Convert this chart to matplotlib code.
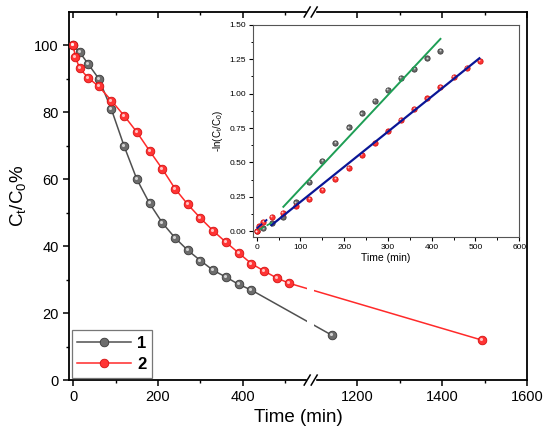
import numpy as np
import matplotlib
matplotlib.use("Agg")
import matplotlib.pyplot as plt
from matplotlib.transforms import ScaledTranslation

plt.rcParams['font.family'] = ['Liberation Sans', 'DejaVu Sans']
plt.rcParams['mathtext.default'] = 'regular'

# main plot: Ct/C0 (%) against time (min)
t1 = [0, 15, 35, 60, 90, 120, 150, 180, 210, 240, 270, 300, 330, 360, 390, 420, 1140]
c1 = [100, 98.0, 94.5, 90.1, 80.9, 69.9, 60.0, 52.8, 47.0, 42.5, 38.8, 35.7, 32.8,
      30.8, 28.6, 26.9, 13.4]
t2 = [0, 5, 15, 35, 60, 90, 120, 150, 180, 210, 240, 270, 300, 330, 360, 390, 420,
      450, 480, 510, 1495]
c2 = [100, 96.5, 93.2, 90.3, 87.8, 83.5, 79.0, 74.1, 68.5, 63.1, 57.2, 52.5, 48.4,
      44.6, 41.2, 38.0, 34.8, 32.6, 30.5, 28.9, 11.9]

# inset: -ln(Ct/C0) against time
it1 = [0, 15, 35, 60, 90, 120, 150, 180, 210, 240, 270, 300, 330, 360, 390, 420]
k1 = [0.0, 0.02, 0.056, 0.104, 0.209, 0.359, 0.512, 0.641, 0.755, 0.857, 0.949,
      1.027, 1.117, 1.18, 1.257, 1.311]
it2 = [0, 5, 15, 35, 60, 90, 120, 150, 180, 210, 240, 270, 300, 330, 360, 390, 420,
       450, 480, 510]
k2 = [0.0, 0.036, 0.068, 0.104, 0.133, 0.182, 0.235, 0.299, 0.379, 0.459, 0.556,
      0.641, 0.726, 0.808, 0.888, 0.966, 1.049, 1.121, 1.189, 1.238]
fit1_x, fit1_y = [61, 420], [0.177, 1.398]
fit2_x, fit2_y = [34, 509], [0.044, 1.257]
fit1a_x, fit1a_y = [5, 35], [0.01, 0.062]
fit2a_x, fit2a_y = [0, 24], [0.02, 0.085]

# axis break
b1, b2 = 560, 1090


def fwd(x):
    x = np.asarray(x, dtype=float)
    return np.where(x <= b1, x, np.where(x >= b2, x - (b2 - b1), b1))


def inv(y):
    y = np.asarray(y, dtype=float)
    return np.where(y <= b1, y, y + (b2 - b1))


GREY, GREY_E = '#6c6c6c', '#383838'
RED, RED_E = '#ff3434', '#d41010'

fig = plt.figure(figsize=(5.5, 4.44), dpi=100)
ax = fig.add_axes([0.1255, 0.144, 0.8325, 0.829])
ax.set_xscale('function', functions=(fwd, inv))
ax.set_xlim(-10, 1600)
ax.set_ylim(0, 110)


def balls(a, x, y, face, edge, lc, ms, lw, label=None):
    ln, = a.plot(x, y, '-o', color=lc, lw=lw, ms=ms, mfc=face, mec=edge, mew=0.6,
                 label=label, zorder=3)
    hl = a.transData + ScaledTranslation(-ms * 0.12 / 72, ms * 0.12 / 72, fig.dpi_scale_trans)
    a.plot(x, y, 'o', ms=ms * 0.36, mfc='white', mec='none', alpha=0.7,
           transform=hl, zorder=4)
    return ln


balls(ax, t1, c1, GREY, GREY_E, '#505050', 6.2, 1.1, label='1')
balls(ax, t2, c2, RED, RED_E, '#ff2a2a', 6.2, 1.1, label='2')

# gap in the lines at the break
ax.axvspan(552, 1098, color='white', zorder=3.5, lw=0)

ax.set_xticks([0, 200, 400, 1200, 1400, 1600])
ax.set_xticks([100, 300, 500, 1300, 1500], minor=True)
ax.set_yticks([0, 20, 40, 60, 80, 100])
ax.set_yticks(np.arange(10, 110, 20), minor=True)
ax.tick_params(axis='both', which='major', labelsize=10.5, length=4, width=1.1,
               direction='out')
ax.tick_params(axis='both', which='minor', length=2.5, width=1.0, direction='out')
for s in ax.spines.values():
    s.set_linewidth(1.3)

# top ticks point inward
top = ax.twiny()
top.set_xscale('function', functions=(fwd, inv))
top.set_xlim(ax.get_xlim())
top.set_xticks([0, 200, 400, 1200, 1400, 1600])
top.set_xticks([100, 300, 500, 1300, 1500], minor=True)
top.tick_params(which='major', direction='in', length=4, width=1.1, labeltop=False)
top.tick_params(which='minor', direction='in', length=2.5, width=1.0)
top.spines[:].set_visible(False)

ax.set_xlabel('Time (min)', fontsize=13.5, labelpad=3)
ax.set_ylabel('C$_t$/C$_0$%', fontsize=13.5, labelpad=4)

leg = ax.legend(loc='lower left', prop={'weight': 'bold', 'size': 12},
                handlelength=3.2, borderaxespad=0.15, fancybox=False,
                edgecolor='#777777', framealpha=1, borderpad=0.35, labelspacing=0.35,
                handletextpad=0.4)
leg.get_frame().set_linewidth(0.9)

# break marks on top and bottom spines
bx = (fwd(b1) - (-10)) / (fwd(1600) + 10)
px = 1 / (0.8325 * 550)
py = 1 / (0.829 * 444)
for yy in (0, 1):
    ax.add_patch(plt.Rectangle((bx - 4 * px, yy - 2 * py), 8 * px, 4 * py,
                               transform=ax.transAxes, color='white', clip_on=False,
                               zorder=5))
    for dx in (-3.5, 3.5):
        ax.plot([bx + (dx - 3) * px, bx + (dx + 3) * px], [yy - 5 * py, yy + 5 * py],
                transform=ax.transAxes, color='black', lw=1.1, clip_on=False, zorder=6)

# inset
ins = fig.add_axes([0.4595, 0.467, 0.4845, 0.477])
ins.set_xlim(-9, 600)
ins.set_ylim(-0.04, 1.5)
balls(ins, it1, k1, GREY, GREY_E, 'none', 3.8, 0)
balls(ins, it2, k2, RED, RED_E, 'none', 3.8, 0)
ins.plot(fit1_x, fit1_y, color='#1e9e55', lw=1.4, zorder=5)
ins.plot(fit2_x, fit2_y, color='#0a1696', lw=1.6, zorder=5)
ins.plot(fit1a_x, fit1a_y, '--', color='#1e9e55', lw=1.2, zorder=5)
ins.plot(fit2a_x, fit2a_y, '--', color='#0a1696', lw=1.4, zorder=5)
ins.set_xticks(np.arange(0, 601, 100))
ins.set_xticks(np.arange(50, 600, 100), minor=True)
ins.set_yticks(np.arange(0, 1.51, 0.25))
ins.set_yticks(np.arange(0.125, 1.5, 0.25), minor=True)
ins.yaxis.set_major_formatter(plt.FormatStrFormatter('%.2f'))
ins.tick_params(which='major', labelsize=6, length=3, width=0.8, pad=2)
ins.tick_params(which='minor', length=1.8, width=0.7)
for s in ins.spines.values():
    s.set_linewidth(0.8)
    s.set_color('#555555')
ins.set_xlabel('Time (min)', fontsize=7.5, labelpad=2)
ins.set_ylabel('-ln(C$_t$/C$_0$)', fontsize=7, labelpad=3)

fig.savefig('out.png', dpi=100)
